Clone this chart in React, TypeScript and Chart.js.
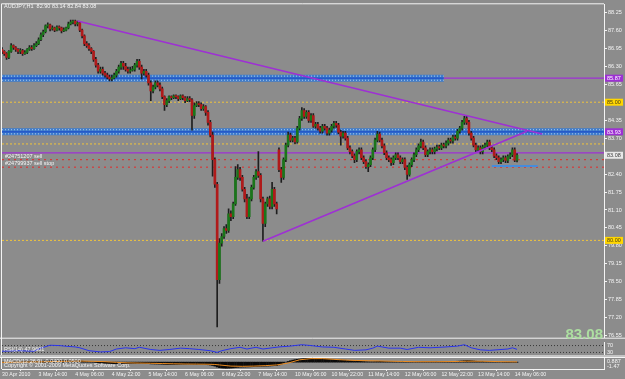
import React, { useEffect, useRef } from "react";
import { Chart, registerables } from "chart.js";

Chart.register(...registerables);

// ---------------- DATA ----------------
const symbol = "AUDJPY,H1";

const opens = [
  86.91,86.84,86.76,86.62,86.84,87.05,86.98,86.91,86.84,86.87,
  86.76,86.80,86.91,86.98,86.94,87.05,87.12,87.26,87.44,87.55,
  87.76,87.80,87.65,87.69,87.61,87.72,87.69,87.58,87.61,87.69,
  87.83,87.90,87.94,87.83,87.87,87.61,87.40,87.12,87.05,86.94,
  86.84,86.55,86.34,86.12,86.19,86.05,85.98,85.91,85.84,85.88,
  85.98,86.12,86.27,86.41,86.30,86.19,86.12,86.16,86.19,86.34,
  86.48,86.27,86.05,86.12,85.98,85.70,85.41,85.55,85.70,85.62,
  85.48,85.20,84.91,85.06,85.20,85.16,85.23,85.20,85.13,85.23,
  85.16,85.06,85.13,85.09,84.52,84.88,84.95,84.91,84.77,84.84,
  84.63,84.27,83.81,82.92,82.03,78.58,79.90,80.14,80.43,80.36,
  80.96,80.86,81.32,82.28,82.56,82.28,81.85,81.50,80.86,81.50,
  81.92,82.28,82.49,82.35,81.50,80.61,81.32,81.50,81.23,81.85,
  81.32,83.28,82.56,82.28,82.92,83.45,83.81,83.63,83.70,83.56,
  84.06,84.41,84.70,84.49,84.63,84.34,84.52,84.13,84.20,84.06,
  83.95,84.13,84.06,83.88,83.99,84.13,84.24,84.17,83.92,83.77,
  83.88,83.70,83.35,83.21,83.06,82.92,83.21,83.28,82.99,82.85,
  82.67,82.74,82.99,83.28,83.63,83.85,83.63,83.42,83.17,82.99,
  82.92,82.81,82.99,83.10,82.99,82.85,82.92,82.64,82.39,82.74,
  82.92,83.10,83.28,83.42,83.56,83.35,83.10,83.21,83.28,83.21,
  83.31,83.38,83.35,83.45,83.42,83.52,83.63,83.60,83.74,83.70,
  83.95,84.06,84.27,84.41,84.27,83.88,83.70,83.45,83.28,83.35,
  83.21,83.38,83.45,83.56,83.35,83.28,83.06,82.99,82.85,82.92,
  82.99,82.89,83.03,83.10,83.28,82.90
];
const highs = [
  86.98,86.87,86.80,86.87,87.12,87.08,87.01,86.94,86.94,86.91,
  86.87,86.94,87.05,87.05,87.12,87.19,87.33,87.51,87.61,87.80,
  87.87,87.83,87.76,87.72,87.76,87.76,87.72,87.69,87.72,87.90,
  87.97,87.97,87.97,87.94,87.90,87.65,87.44,87.19,87.12,86.98,
  86.87,86.62,86.41,86.27,86.27,86.12,86.05,85.98,85.98,86.05,
  86.19,86.34,86.48,86.48,86.41,86.27,86.27,86.30,86.41,86.55,
  86.55,86.34,86.19,86.19,86.05,85.77,85.62,85.77,85.77,85.70,
  85.55,85.23,85.13,85.23,85.23,85.27,85.27,85.23,85.27,85.27,
  85.20,85.20,85.20,85.13,84.98,85.02,85.02,84.98,84.91,84.88,
  84.70,84.34,83.92,82.99,82.10,80.07,80.25,80.50,80.57,81.14,
  81.07,81.39,82.67,82.74,82.64,82.35,81.92,81.67,81.57,82.00,
  82.35,82.56,83.21,82.42,81.57,81.39,81.57,81.60,82.10,81.92,
  81.39,83.35,82.64,82.99,83.52,83.92,83.88,83.77,83.77,84.13,
  84.49,84.81,84.77,84.70,84.70,84.59,84.59,84.27,84.27,84.13,
  84.20,84.20,84.13,84.06,84.20,84.31,84.31,84.24,83.99,83.95,
  83.95,83.77,83.42,83.28,83.13,83.28,83.35,83.35,83.06,82.92,
  82.81,83.06,83.35,83.70,83.95,83.92,83.70,83.49,83.24,83.06,
  82.99,83.06,83.17,83.17,83.06,82.99,82.99,82.71,82.81,82.99,
  83.17,83.35,83.49,83.67,83.63,83.42,83.28,83.35,83.35,83.38,
  83.45,83.45,83.52,83.52,83.60,83.70,83.70,83.81,83.81,84.02,
  84.13,84.34,84.49,84.49,84.34,83.95,83.77,83.52,83.42,83.42,
  83.45,83.52,83.63,83.63,83.42,83.35,83.13,83.06,82.99,83.06,
  83.06,83.10,83.17,83.35,83.35,83.14
];
const lows = [
  86.76,86.69,86.55,86.58,86.80,86.91,86.84,86.76,86.76,86.69,
  86.73,86.76,86.87,86.87,86.91,87.01,87.08,87.23,87.37,87.51,
  87.69,87.58,87.61,87.55,87.58,87.61,87.51,87.55,87.58,87.65,
  87.80,87.83,87.76,87.76,87.55,87.33,87.05,86.98,86.87,86.76,
  86.48,86.27,86.05,86.05,85.98,85.91,85.84,85.77,85.77,85.84,
  85.91,86.05,86.19,86.19,86.12,86.05,86.05,86.12,86.12,86.27,
  86.19,85.84,85.98,85.91,85.62,85.06,85.34,85.48,85.55,85.41,
  85.13,84.70,84.84,84.98,85.09,85.13,85.13,85.06,85.09,85.09,
  84.98,85.02,85.02,83.99,84.41,84.84,84.84,84.70,84.70,84.52,
  84.17,83.74,82.32,81.92,76.87,78.44,79.79,80.07,80.25,80.29,
  80.71,80.79,81.27,82.21,82.17,81.78,81.39,80.79,80.79,81.43,
  81.85,82.21,82.28,81.39,79.97,80.50,81.23,81.14,81.14,81.23,
  80.96,82.49,82.10,82.21,82.85,83.38,83.56,83.56,83.49,83.52,
  83.99,84.34,84.41,84.41,84.27,84.27,84.09,84.06,83.99,83.88,
  83.88,83.99,83.81,83.81,83.92,84.06,84.09,83.85,83.45,83.70,
  83.63,83.28,83.13,82.99,82.81,82.85,83.13,82.92,82.78,82.60,
  82.49,82.67,82.92,83.21,83.56,83.56,83.35,83.10,82.92,82.85,
  82.71,82.74,82.92,82.92,82.78,82.78,82.56,82.21,82.32,82.67,
  82.85,83.03,83.21,83.35,83.28,83.03,83.03,83.13,83.13,83.13,
  83.24,83.28,83.28,83.35,83.35,83.45,83.52,83.52,83.63,83.63,
  83.88,83.99,84.20,84.20,83.81,83.63,83.38,83.21,83.21,83.13,
  83.13,83.31,83.38,83.28,83.21,82.99,82.92,82.78,82.78,82.85,
  82.81,82.81,82.96,83.03,82.85,82.84
];
const closes = [
  86.84,86.76,86.62,86.84,87.05,86.98,86.91,86.84,86.87,86.76,
  86.80,86.91,86.98,86.94,87.05,87.12,87.26,87.44,87.55,87.76,
  87.80,87.65,87.69,87.61,87.72,87.69,87.58,87.61,87.69,87.83,
  87.90,87.94,87.83,87.87,87.61,87.40,87.12,87.05,86.94,86.84,
  86.55,86.34,86.12,86.19,86.05,85.98,85.91,85.84,85.88,85.98,
  86.12,86.27,86.41,86.30,86.19,86.12,86.16,86.19,86.34,86.48,
  86.27,86.05,86.12,85.98,85.70,85.41,85.55,85.70,85.62,85.48,
  85.20,84.91,85.06,85.20,85.16,85.23,85.20,85.13,85.23,85.16,
  85.06,85.13,85.09,84.52,84.88,84.95,84.91,84.77,84.84,84.63,
  84.27,83.81,82.92,82.03,78.58,79.90,80.14,80.43,80.36,80.96,
  80.86,81.32,82.28,82.56,82.28,81.85,81.50,80.86,81.50,81.92,
  82.28,82.49,82.35,81.50,80.61,81.32,81.50,81.23,81.85,81.32,
  81.14,82.56,82.28,82.92,83.45,83.81,83.63,83.70,83.56,84.06,
  84.41,84.70,84.49,84.63,84.34,84.52,84.13,84.20,84.06,83.95,
  84.13,84.06,83.88,83.99,84.13,84.24,84.17,83.92,83.77,83.88,
  83.70,83.35,83.21,83.06,82.92,83.21,83.28,82.99,82.85,82.67,
  82.74,82.99,83.28,83.63,83.85,83.63,83.42,83.17,82.99,82.92,
  82.81,82.99,83.10,82.99,82.85,82.92,82.64,82.39,82.74,82.92,
  83.10,83.28,83.42,83.56,83.35,83.10,83.21,83.28,83.21,83.31,
  83.38,83.35,83.45,83.42,83.52,83.63,83.60,83.74,83.70,83.95,
  84.06,84.27,84.41,84.27,83.88,83.70,83.45,83.28,83.35,83.21,
  83.38,83.45,83.56,83.35,83.28,83.06,82.99,82.85,82.92,82.99,
  82.89,83.03,83.10,83.28,82.90,83.08
];

const priceTicks = [76.55,77.20,77.85,78.50,79.15,79.80,80.45,81.10,81.75,82.40,83.05,83.70,84.35,85.00,85.65,86.30,86.95,87.60,88.25];
const timeTickIdx = [0,16,32,48,64,80,96,112,128,144,160,176,192,208,224];
const timeLabels = ["30 Apr 2010","3 May 14:00","4 May 06:00","4 May 22:00","5 May 14:00","6 May 06:00","6 May 22:00","7 May 14:00","10 May 06:00","10 May 22:00","11 May 14:00","12 May 06:00","12 May 22:00","13 May 14:00","14 May 06:00"];

// chart objects (bar index / price)
const upperTrendX = [33, 236];
const upperTrendY = [87.94, 83.85];
const lowerTrendX = [114, 229.4];
const lowerTrendY = [79.97, 83.95];
const bandPrices = [85.87, 83.93];
const bandEnds = [193, 263];
const resistancePrice = 85.87;
const yellowLevels = [85.00, 83.49, 80.00];
const purpleLevel = 83.17;
const orderPrices = [82.92, 82.65];
const orderLabels = ["#24751207 sell", "#24799937 sell stop"];
const targetPrice = 82.69;
const targetFrom = 214;
const targetTo = 234;
const boxPrices = [85.87, 85.00, 83.93, 80.00];
const boxKinds = ["purple", "yellow", "purple", "yellow"];

// indicators
const rsiX = [0,7,14,17,21,25,28,32,34,38,43,47,50,54,58,60,65,69,73,78,82,86,91,94,96,100,104,107,111,114,118,121,126,131,135,140,145,150,154,159,162,164,169,174,177,182,187,194,199,202,205,209,213,218,221,223,225];
const rsiVals = [37,40,37,55,72,70,66,62,57,40,33,35,50,57,52,60,47,42,47,55,52,47,40,30,40,52,60,50,60,50,57,62,67,75,70,62,60,50,42,45,55,67,55,55,47,60,57,62,67,75,57,45,42,47,50,57,47.9601];
const rsiLevels = [70, 30];

const macdHist = [
  0.02,0.01,-0.01,-0.02,0.00,0.02,0.03,0.03,0.04,0.04,
  0.05,0.06,0.07,0.09,0.11,0.13,0.16,0.19,0.22,0.25,
  0.27,0.27,0.28,0.28,0.29,0.29,0.28,0.28,0.29,0.30,
  0.31,0.32,0.31,0.30,0.27,0.22,0.16,0.11,0.07,0.03,
  -0.02,-0.07,-0.12,-0.16,-0.19,-0.22,-0.25,-0.28,-0.31,-0.33,
  -0.33,-0.32,-0.30,-0.28,-0.27,-0.27,-0.27,-0.26,-0.25,-0.24,
  -0.24,-0.26,-0.28,-0.30,-0.33,-0.37,-0.39,-0.40,-0.41,-0.43,
  -0.45,-0.48,-0.50,-0.50,-0.50,-0.49,-0.48,-0.47,-0.46,-0.45,
  -0.45,-0.44,-0.44,-0.46,-0.47,-0.47,-0.47,-0.48,-0.49,-0.52,
  -0.56,-0.62,-0.72,-0.85,-1.05,-1.18,-1.24,-1.28,-1.30,-1.28,
  -1.26,-1.22,-1.16,-1.12,-1.08,-1.06,-1.05,-1.04,-1.02,-0.99,
  -0.96,-0.93,-0.91,-0.89,-0.88,-0.86,-0.84,-0.82,-0.79,-0.76,
  -0.74,-0.60,-0.40,-0.20,0.00,0.15,0.30,0.42,0.52,0.60,
  0.66,0.72,0.76,0.78,0.79,0.79,0.78,0.76,0.74,0.72,
  0.70,0.67,0.64,0.61,0.58,0.55,0.52,0.49,0.46,0.43,
  0.41,0.37,0.33,0.29,0.25,0.21,0.18,0.16,0.13,0.10,
  0.08,0.07,0.08,0.11,0.14,0.16,0.16,0.14,0.12,0.10,
  0.08,0.07,0.06,0.05,0.05,0.04,0.03,0.02,0.01,0.01,
  0.02,0.03,0.05,0.07,0.08,0.08,0.08,0.08,0.08,0.08,
  0.09,0.09,0.10,0.10,0.11,0.12,0.13,0.14,0.16,0.19,
  0.22,0.26,0.30,0.33,0.32,0.29,0.25,0.20,0.16,0.13,
  0.11,0.10,0.10,0.09,0.08,0.06,0.04,0.02,0.00,-0.02,
  -0.03,-0.04,-0.04,-0.03,-0.04,-0.04
];
const sigX = [0,10,20,30,35,40,45,50,55,60,65,70,75,80,85,90,93,95,97,100,105,110,115,120,125,130,135,140,145,150,155,160,165,170,175,180,190,200,203,210,218,225];
const sigVals = [-0.05,0.0,0.1,0.2,0.22,0.18,0.1,-0.05,-0.15,-0.2,-0.25,-0.3,-0.35,-0.4,-0.42,-0.45,-0.5,-0.6,-0.7,-0.85,-0.9,-0.85,-0.75,-0.6,-0.2,0.5,0.75,0.75,0.6,0.45,0.35,0.3,0.25,0.2,0.15,0.1,0.1,0.15,0.2,0.2,0.1,0.05];
const macdMax = 0.887;
const macdMin = -1.47;

// ---------------- STYLE ----------------
const FONT = '"Liberation Sans", Arial, sans-serif';
const BG = "rgb(140,140,140)";
const WHITE = "rgba(250,250,250,0.95)";
const PURPLE = "rgb(158,48,212)";
const YELLOW = "rgb(240,196,60)";
const BLUE = "rgb(62,124,204)";
const GREEN = "rgb(26,118,26)";
const RED = "rgb(176,26,26)";
const XMAX = 263;

function seg(x0: number, x1: number, y0: number, y1: number, color: string, width: number, dash: number[], order: number): any {
  return {
    type: "line",
    data: [{ x: x0, y: y0 }, { x: x1, y: y1 }],
    borderColor: color,
    borderWidth: width,
    borderDash: dash,
    pointRadius: 0,
    pointHoverRadius: 0,
    fill: false,
    tension: 0,
    order,
  };
}

function fmt(v: number) {
  return v.toFixed(2);
}

export default function App() {
  const mainRef = useRef<HTMLCanvasElement>(null);
  const rsiRef = useRef<HTMLCanvasElement>(null);
  const macdRef = useRef<HTMLCanvasElement>(null);

  useEffect(() => {
    const n = closes.length;
    const idx = closes.map((_, i) => i);
    const last = n - 1;

    const datasets: any[] = [];
    bandPrices.forEach((p, k) => {
      datasets.push(seg(0, bandEnds[k], p, p, BLUE, 7, [], 20));
      datasets.push(seg(0, bandEnds[k], p + 0.075, p + 0.075, "rgba(185,212,240,0.9)", 1, [1, 2], 19));
      datasets.push(seg(0, bandEnds[k], p - 0.075, p - 0.075, "rgba(185,212,240,0.9)", 1, [1, 2], 19));
      datasets.push(seg(0, bandEnds[k], p, p, "rgb(28,78,200)", 1.2, [], 18));
    });
    datasets.push(seg(bandEnds[0], XMAX, resistancePrice, resistancePrice, PURPLE, 1.2, [], 17));
    yellowLevels.forEach((p) => datasets.push(seg(0, XMAX, p, p, YELLOW, 1, [2, 2], 16)));
    datasets.push(seg(0, XMAX, purpleLevel, purpleLevel, PURPLE, 1.2, [], 16));
    orderPrices.forEach((p) => datasets.push(seg(0, XMAX, p, p, "rgb(228,40,40)", 1, [2, 4], 16)));
    datasets.push(seg(targetFrom, targetTo, targetPrice, targetPrice, "rgb(70,140,220)", 2, [], 15));
    datasets.push({
      type: "bar",
      data: idx.map((i) => ({ x: i, y: [lows[i], highs[i]] })),
      backgroundColor: "rgb(30,30,30)",
      barThickness: 1,
      grouped: false,
      order: 6,
    });
    datasets.push({
      type: "bar",
      data: idx.map((i) => ({ x: i, y: [opens[i], closes[i]] })),
      backgroundColor: idx.map((i) => (closes[i] >= opens[i] ? GREEN : RED)),
      barThickness: 2,
      minBarLength: 1,
      grouped: false,
      order: 5,
    });
    datasets.push(seg(upperTrendX[0], upperTrendX[1], upperTrendY[0], upperTrendY[1], PURPLE, 1.6, [], 1));
    datasets.push(seg(lowerTrendX[0], lowerTrendX[1], lowerTrendY[0], lowerTrendY[1], PURPLE, 1.6, [], 1));

    const mainDeco = {
      id: "mainDeco",
      afterDraw(chart: any) {
        const { ctx, chartArea: a, scales } = chart;
        const y = scales.y;
        ctx.save();
        ctx.strokeStyle = WHITE;
        ctx.lineWidth = 1;
        ctx.beginPath();
        ctx.moveTo(1.5, 342);
        ctx.lineTo(1.5, a.top - 0.5);
        ctx.lineTo(a.right, a.top - 0.5);
        ctx.moveTo(0, a.bottom + 0.5);
        ctx.lineTo(625, a.bottom + 0.5);
        ctx.stroke();

        ctx.font = `5.5px ${FONT}`;
        ctx.fillStyle = WHITE;
        ctx.textBaseline = "middle";
        ctx.textAlign = "left";
        ctx.fillText(
          `${symbol}  ${fmt(opens[last])} ${fmt(highs[last])} ${fmt(lows[last])} ${fmt(closes[last])}`,
          4, 6.5
        );
        orderPrices.forEach((p, k) => {
          ctx.fillText(orderLabels[k], 5, y.getPixelForValue(p) - 3.5);
        });

        const drawBox = (p: number, fill: string, text: string, textColor: string) => {
          const py = y.getPixelForValue(p);
          ctx.fillStyle = fill;
          ctx.fillRect(605, py - 3.5, 18, 7);
          ctx.fillStyle = textColor;
          ctx.font = `5.5px ${FONT}`;
          ctx.textAlign = "left";
          ctx.fillText(text, 607, py + 0.5);
        };
        boxPrices.forEach((p, k) => {
          if (boxKinds[k] === "purple") drawBox(p, PURPLE, fmt(p), "#fff");
          else drawBox(p, "rgb(255,214,0)", fmt(p), "rgb(70,60,20)");
        });
        drawBox(closes[last], "rgb(232,232,232)", fmt(closes[last]), "rgb(60,60,60)");

        ctx.font = `bold 15px ${FONT}`;
        ctx.fillStyle = "rgb(172,222,160)";
        ctx.textAlign = "right";
        ctx.textBaseline = "alphabetic";
        ctx.fillText(fmt(closes[last]), 603, 338.5);
        ctx.restore();
      },
    };

    const mainChart = new Chart(mainRef.current as HTMLCanvasElement, {
      type: "bar",
      data: { datasets },
      options: {
        animation: false,
        responsive: false,
        devicePixelRatio: 1,
        events: [],
        layout: { padding: { left: 2, top: 2, right: 0, bottom: 1 } },
        plugins: { legend: { display: false }, tooltip: { enabled: false } },
        scales: {
          x: { type: "linear", min: 0, max: XMAX, display: false, offset: false },
          y: {
            type: "linear",
            position: "right",
            min: 76.479,
            max: 88.543,
            afterBuildTicks: (s: any) => {
              s.ticks = priceTicks.map((v) => ({ value: v }));
            },
            afterFit: (s: any) => {
              s.width = 21;
            },
            ticks: {
              autoSkip: false,
              color: WHITE,
              padding: 1,
              font: { family: FONT, size: 5.5 },
              callback: (v: any) => Number(v).toFixed(2),
            },
            grid: { display: true, drawOnChartArea: false, drawTicks: true, tickLength: 3, color: WHITE },
            border: { display: true, color: WHITE },
          },
        },
      } as any,
      plugins: [mainDeco],
    } as any);

    const rsiDeco = {
      id: "rsiDeco",
      afterDraw(chart: any) {
        const { ctx, chartArea: a, scales } = chart;
        ctx.save();
        ctx.strokeStyle = WHITE;
        ctx.lineWidth = 1;
        ctx.beginPath();
        ctx.moveTo(1.5, 0);
        ctx.lineTo(1.5, 15);
        ctx.moveTo(a.right + 0.5, 0);
        ctx.lineTo(a.right + 0.5, 15);
        ctx.stroke();
        ctx.fillStyle = "rgb(196,196,196)";
        ctx.fillRect(0, a.bottom, 625, 2);
        ctx.font = `5.5px ${FONT}`;
        ctx.fillStyle = WHITE;
        ctx.textBaseline = "middle";
        ctx.textAlign = "left";
        ctx.fillText(`RSI(14) ${rsiVals[rsiVals.length - 1].toFixed(4)}`, 4, 7);
        rsiLevels.forEach((lv) => ctx.fillText(String(lv), 607, scales.y.getPixelForValue(lv)));
        ctx.restore();
      },
    };
    const rsiChart = new Chart(rsiRef.current as HTMLCanvasElement, {
      type: "line",
      data: {
        datasets: [
          {
            data: rsiX.map((x, k) => ({ x, y: rsiVals[k] })),
            borderColor: "rgb(42,52,238)",
            borderWidth: 1,
            pointRadius: 0,
            tension: 0,
            order: 1,
          },
          ...rsiLevels.map((lv) => seg(0, XMAX, lv, lv, "rgb(55,55,55)", 1, [1, 2], 2)),
        ],
      },
      options: {
        animation: false,
        responsive: false,
        devicePixelRatio: 1,
        events: [],
        layout: { padding: { left: 2, right: 21, top: 1, bottom: 2 } },
        plugins: { legend: { display: false }, tooltip: { enabled: false } },
        scales: {
          x: { type: "linear", min: 0, max: XMAX, display: false },
          y: { type: "linear", min: 15, max: 85, display: false },
        },
      } as any,
      plugins: [rsiDeco],
    } as any);

    const macdDeco = {
      id: "macdDeco",
      afterDraw(chart: any) {
        const { ctx, chartArea: a } = chart;
        ctx.save();
        ctx.strokeStyle = WHITE;
        ctx.lineWidth = 1;
        ctx.beginPath();
        ctx.moveTo(0, 0.5);
        ctx.lineTo(625, 0.5);
        ctx.moveTo(1.5, 0);
        ctx.lineTo(1.5, a.bottom);
        ctx.moveTo(a.right + 0.5, 0);
        ctx.lineTo(a.right + 0.5, a.bottom);
        ctx.stroke();
        ctx.font = `5.5px ${FONT}`;
        ctx.fillStyle = WHITE;
        ctx.textBaseline = "middle";
        ctx.textAlign = "left";
        ctx.fillText("Copyright \u00a9 2001-2009 MetaQuotes Software Corp.", 4, 8.5);
        ctx.fillText(
          `MACD(12,26,9) ${macdHist[macdHist.length - 1].toFixed(4)} ${sigVals[sigVals.length - 1].toFixed(4)}`,
          4, 4
        );
        ctx.fillText(String(macdMax), 607, a.top + 3);
        ctx.fillText(macdMin.toFixed(2), 607, a.bottom - 3);
        ctx.restore();
      },
    };
    const macdChart = new Chart(macdRef.current as HTMLCanvasElement, {
      type: "bar",
      data: {
        datasets: [
          {
            type: "line",
            data: sigX.map((x, k) => ({ x, y: sigVals[k] })),
            borderColor: "rgb(236,140,32)",
            borderWidth: 1,
            pointRadius: 0,
            tension: 0,
            order: 1,
          },
          {
            type: "bar",
            data: macdHist.map((v, i) => ({ x: i, y: v })),
            backgroundColor: "rgb(10,10,10)",
            barThickness: 2,
            grouped: false,
            order: 2,
          },
        ],
      },
      options: {
        animation: false,
        responsive: false,
        devicePixelRatio: 1,
        events: [],
        layout: { padding: { left: 2, right: 21, top: 1, bottom: 0 } },
        plugins: { legend: { display: false }, tooltip: { enabled: false } },
        scales: {
          x: {
            type: "linear",
            min: 0,
            max: XMAX,
            offset: false,
            position: "bottom",
            afterBuildTicks: (s: any) => {
              s.ticks = timeTickIdx.map((v) => ({ value: v }));
            },
            afterFit: (s: any) => {
              s.height = 10;
            },
            ticks: {
              autoSkip: false,
              maxRotation: 0,
              minRotation: 0,
              align: "start",
              padding: 0,
              color: WHITE,
              font: { family: FONT, size: 5.2 },
              callback: (v: any) => {
                const k = timeTickIdx.indexOf(Number(v));
                return k >= 0 ? timeLabels[k] : "";
              },
            },
            grid: { display: true, drawOnChartArea: false, drawTicks: true, tickLength: 2, color: WHITE },
            border: { display: true, color: WHITE },
          },
          y: { type: "linear", min: macdMin, max: macdMax, display: false },
        },
      } as any,
      plugins: [macdDeco],
    } as any);

    return () => {
      mainChart.destroy();
      rsiChart.destroy();
      macdChart.destroy();
    };
  }, []);

  return (
    <div
      style={{
        position: "fixed",
        left: 0,
        top: 0,
        width: 625,
        height: 379,
        background: BG,
        overflow: "hidden",
      }}
    >
      <canvas ref={mainRef} width={625} height={342} style={{ position: "absolute", left: 0, top: 0, width: 625, height: 342 }} />
      <canvas ref={rsiRef} width={625} height={15} style={{ position: "absolute", left: 0, top: 342, width: 625, height: 15 }} />
      <canvas ref={macdRef} width={625} height={22} style={{ position: "absolute", left: 0, top: 357, width: 625, height: 22 }} />
    </div>
  );
}
